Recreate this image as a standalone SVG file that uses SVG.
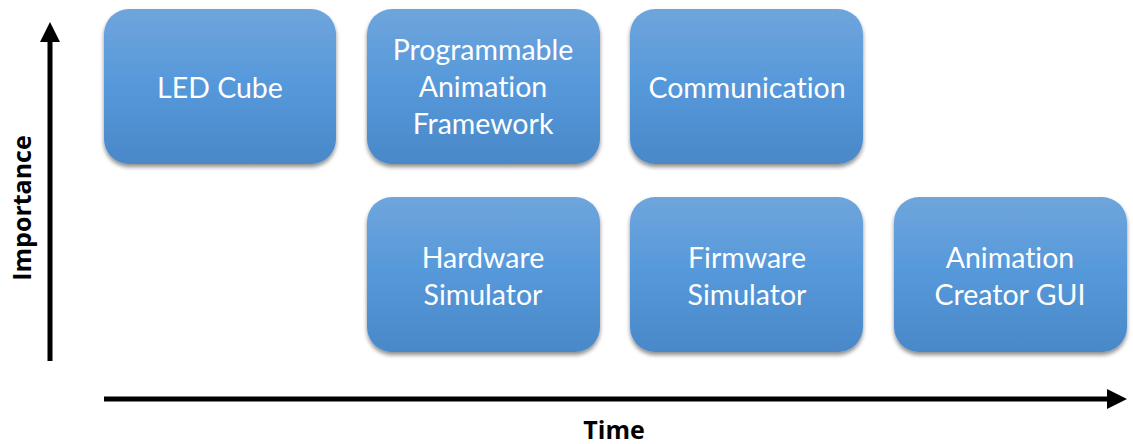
<svg xmlns="http://www.w3.org/2000/svg" width="1133" height="444" viewBox="0 0 1133 444">
<defs>
<linearGradient id="g" x1="0" y1="0" x2="0" y2="1">
<stop offset="0" stop-color="#6fa5dc"/>
<stop offset="0.5" stop-color="#5598da"/>
<stop offset="1" stop-color="#4a88c8"/>
</linearGradient>
<filter id="sh" x="-10%" y="-10%" width="120%" height="130%">
<feGaussianBlur in="SourceAlpha" stdDeviation="2"/>
<feOffset dx="0" dy="2.5" result="b"/>
<feComponentTransfer><feFuncA type="linear" slope="0.45"/></feComponentTransfer>
<feMerge><feMergeNode/><feMergeNode in="SourceGraphic"/></feMerge>
</filter>
<marker id="ah" markerWidth="4" markerHeight="4" refX="0" refY="2" orient="auto" markerUnits="strokeWidth">
<path d="M0,0 L4,2 L0,4 Z" fill="#000"/>
</marker>
</defs>
<style>
.box{fill:url(#g);filter:url(#sh)}
.t{font-family:Lato,"Open Sans","Liberation Sans",sans-serif;font-size:28.5px;fill:#fff;text-anchor:middle;dominant-baseline:central;font-variant-ligatures:none}
.lbl{font-family:"Open Sans","Liberation Sans",sans-serif;font-size:25px;font-weight:bold;fill:#000;text-anchor:middle}
.ax{stroke:#000;stroke-width:5;fill:none}
</style>
<g id="connectors">
<line class="ax" x1="50" y1="361" x2="50" y2="42" marker-end="url(#ah)"/>
<line class="ax" x1="104" y1="399" x2="1107" y2="399" marker-end="url(#ah)"/>
</g>
<g id="node-led">
<rect class="box" x="104" y="9" width="232" height="155" rx="25"/>
<text class="t" x="220" y="87">LED Cube</text>
</g>
<g id="node-paf">
<rect class="box" x="367" y="9" width="233" height="155" rx="25"/>
<text class="t" x="483" y="49">Programmable</text>
<text class="t" x="483" y="86">Animation</text>
<text class="t" x="483" y="123">Framework</text>
</g>
<g id="node-comm">
<rect class="box" x="630" y="9" width="233" height="155" rx="25"/>
<text class="t" x="747" y="87">Communication</text>
</g>
<g id="node-hw">
<rect class="box" x="367" y="197" width="233" height="155" rx="25"/>
<text class="t" x="483" y="257">Hardware</text>
<text class="t" x="483" y="294">Simulator</text>
</g>
<g id="node-fw">
<rect class="box" x="630" y="197" width="233" height="155" rx="25"/>
<text class="t" x="747" y="257">Firmware</text>
<text class="t" x="747" y="294">Simulator</text>
</g>
<g id="node-gui">
<rect class="box" x="894" y="197" width="233" height="155" rx="25"/>
<text class="t" x="1010" y="257">Animation</text>
<text class="t" x="1010" y="294">Creator GUI</text>
</g>
<text class="lbl" x="614" y="439">Time</text>
<text class="lbl" transform="translate(31,208) rotate(-90)">Importance</text>
</svg>
